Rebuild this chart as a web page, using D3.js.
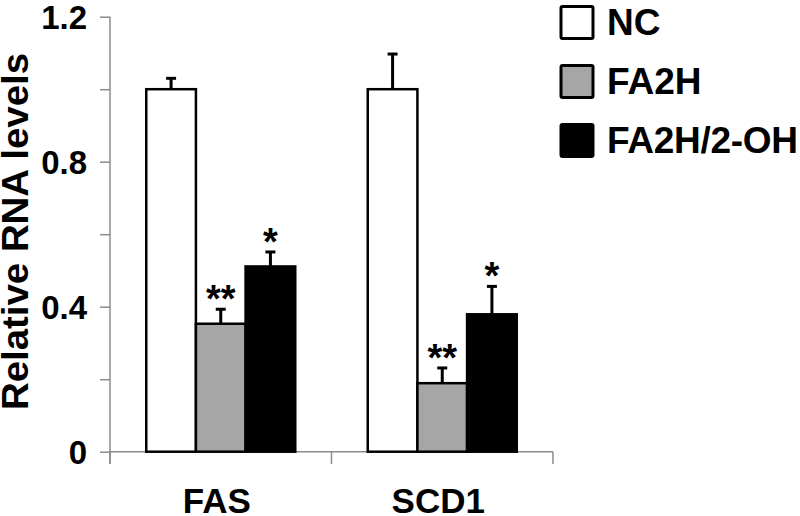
<!DOCTYPE html>
<html><head><meta charset="utf-8">
<script src="https://cdn.jsdelivr.net/npm/d3@7"></script>
<style>body{margin:0;background:#fff}svg{display:block}text{font-family:"Liberation Sans",Arial,sans-serif;font-weight:bold}</style>
</head><body><svg id="c" width="800" height="516"></svg>
<script>
const categories = ["FAS", "SCD1"];
const seriesNames = ["NC", "FA2H", "FA2H/2-OH"];
const seriesColors = ["#ffffff", "#a6a6a6", "#000000"];
const ncValues = [1.0, 1.0];
const fa2hValues = [0.353, 0.189];
const fa2hOhValues = [0.511, 0.379];
const ncErrors = [0.03, 0.097];
const fa2hErrors = [0.04, 0.042];
const fa2hOhErrors = [0.04, 0.077];
const fa2hStars = ["**", "**"];
const fa2hOhStars = ["*", "*"];
const yTickLabels = [0, 0.4, 0.8, 1.2];
const yMinorTicks = [0, 0.2, 0.4, 0.6, 0.8, 1.0, 1.2];

const values = [ncValues, fa2hValues, fa2hOhValues];
const errors = [ncErrors, fa2hErrors, fa2hOhErrors];
const stars = [["", ""], fa2hStars, fa2hOhStars];

const svg = d3.select("#c");
const y = d3.scaleLinear().domain([0, 1.2]).range([451.7, 16.7]);
const x0 = d3.scaleBand().domain(categories).range([110, 553]).paddingInner(0).paddingOuter(0);
const x1 = d3.scaleBand().domain(seriesNames).range([0, 149]).padding(0);
const groupOffset = (x0.bandwidth() - 149) / 2;

const axisColor = "#8c8c8c";
// y axis
const yAxis = svg.append("g").attr("transform", "translate(110,0)")
  .call(d3.axisLeft(y).tickValues(yMinorTicks).tickSize(10).tickFormat(""));
yAxis.select(".domain").remove();
yAxis.selectAll("line").attr("stroke", axisColor).attr("stroke-width", 1.5);
svg.append("line").attr("x1", 110).attr("x2", 110).attr("y1", y(1.2)).attr("y2", 464)
  .attr("stroke", axisColor).attr("stroke-width", 1.5);
svg.selectAll("text.ylab").data(yTickLabels).join("text").attr("class", "ylab")
  .attr("x", 87).attr("y", d => y(d)).attr("dy", "0.36em").attr("text-anchor", "end")
  .attr("font-size", 33).attr("fill", "#000").text(d => d === 0 ? "0" : d3.format(".1f")(d));

// x axis
const xAxis = svg.append("g").attr("transform", "translate(0," + y(0) + ")")
  .call(d3.axisBottom(x0).tickSize(0).tickFormat(""));
xAxis.select(".domain").attr("stroke", axisColor).attr("stroke-width", 1.5).attr("d", "M110,0H553");
const xTicks = [x0.range()[0], ...categories.map(c => x0(c) + x0.bandwidth())];
svg.selectAll("line.xt").data(xTicks).join("line").attr("class", "xt")
  .attr("x1", d => d).attr("x2", d => d).attr("y1", y(0)).attr("y2", 464)
  .attr("stroke", axisColor).attr("stroke-width", 1.5);
svg.selectAll("text.xlab").data(categories).join("text").attr("class", "xlab")
  .attr("x", d => x0(d) + x0.bandwidth() / 2 - 4).attr("y", 513).attr("text-anchor", "middle")
  .attr("font-size", 35).attr("fill", "#000").text(d => d);

// bars
const bars = [];
categories.forEach((c, ci) => seriesNames.forEach((s, si) => {
  bars.push({c, s, si, v: values[si][ci], e: errors[si][ci], star: stars[si][ci]});
}));
const bx = d => x0(d.c) + groupOffset + x1(d.s);
svg.selectAll("line.err").data(bars).join("line").attr("class", "err")
  .attr("x1", d => bx(d) + x1.bandwidth() / 2).attr("x2", d => bx(d) + x1.bandwidth() / 2)
  .attr("y1", d => y(d.v)).attr("y2", d => y(d.v + d.e)).attr("stroke", "#000").attr("stroke-width", 3);
svg.selectAll("line.cap").data(bars).join("line").attr("class", "cap")
  .attr("x1", d => bx(d) + x1.bandwidth() / 2 - 5).attr("x2", d => bx(d) + x1.bandwidth() / 2 + 5)
  .attr("y1", d => y(d.v + d.e)).attr("y2", d => y(d.v + d.e)).attr("stroke", "#000").attr("stroke-width", 3);
svg.selectAll("rect.bar").data(bars).join("rect").attr("class", "bar")
  .attr("x", d => bx(d)).attr("width", x1.bandwidth())
  .attr("y", d => y(d.v)).attr("height", d => y(0) - y(d.v))
  .attr("fill", d => seriesColors[d.si]).attr("stroke", "#000").attr("stroke-width", 2.5);
svg.selectAll("text.star").data(bars.filter(d => d.star)).join("text").attr("class", "star")
  .attr("x", d => bx(d) + x1.bandwidth() / 2).attr("y", d => y(d.v + d.e) + 3)
  .attr("text-anchor", "middle").attr("font-size", 38).attr("font-weight", "normal")
  .attr("fill", "#000").text(d => d.star);

// legend
const lg = svg.append("g");
seriesNames.forEach((s, i) => {
  const ty = 5 + i * 59;
  lg.append("rect").attr("x", 561).attr("y", ty + 1.5).attr("width", 32).attr("height", 32)
    .attr("fill", seriesColors[i]).attr("stroke", "#000").attr("stroke-width", 3).attr("rx", 1.5);
  lg.append("text").attr("x", 607).attr("y", ty + 30).attr("font-size", 37).attr("fill", "#000")
    .attr("textLength", s === "FA2H/2-OH" ? 191 : null).text(s);
});

// y title
svg.append("text").attr("transform", "translate(28,231.5) rotate(-90)")
  .attr("text-anchor", "middle").attr("font-size", 36).attr("fill", "#000")
  .attr("textLength", 357).attr("lengthAdjust", "spacingAndGlyphs").text("Relative RNA levels");
</script></body></html>
